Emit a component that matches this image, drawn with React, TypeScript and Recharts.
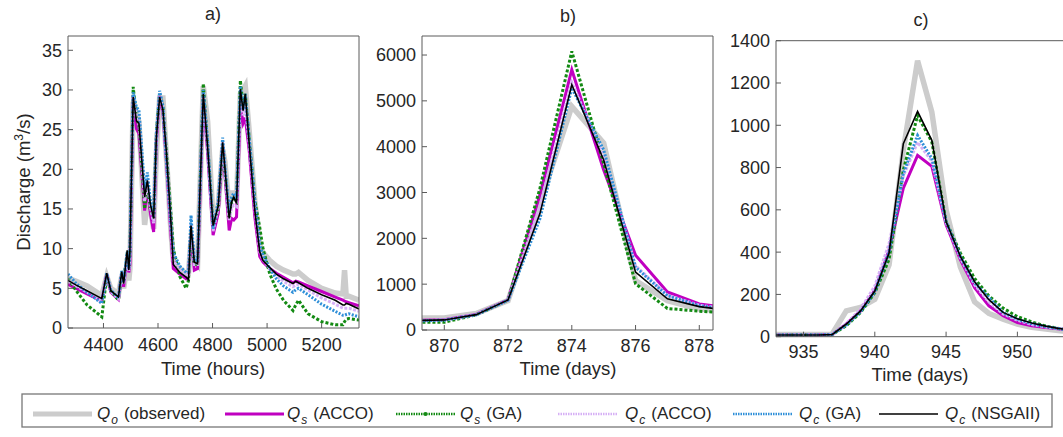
import React from 'react'
import { LineChart, Line, XAxis, YAxis } from 'recharts'

const FONT = '"Liberation Sans", Arial, Helvetica, sans-serif'
const AXIS = '#5a5a5a'
const INK = '#262626'

// a) hourly event, Time (hours)
const hoursA = [
  4270, 4300, 4340, 4394, 4412, 4427, 4455, 4467, 4474, 4487,
  4493, 4497, 4509, 4521, 4530, 4551, 4561, 4572, 4584, 4594,
  4606, 4618, 4630, 4648, 4656, 4680, 4703, 4712, 4721, 4733,
  4745, 4766, 4782, 4802, 4821, 4837, 4845, 4861, 4870, 4878,
  4888, 4902, 4912, 4920, 4934, 4955, 4973, 4985, 5010, 5034,
  5060, 5095, 5105, 5115, 5150, 5200, 5250, 5278, 5284, 5290,
  5300, 5337,
]
const obsA = [
  6.3, 5.9, 5.3, 4.1, 6.5, 5.0, 4.3, 6.5, 5.0, 8.0,
  6.0, 7.5, 28.5, 27.0, 26.0, 13.0, 16.0, 15.0, 12.5, 22.0,
  29.0, 29.0, 22.0, 12.0, 8.5, 7.5, 6.8, 7.0, 11.0, 8.5,
  8.0, 30.5, 26.0, 13.5, 15.5, 22.5, 21.0, 15.0, 17.0, 17.0,
  16.0, 29.5, 30.0, 30.5, 25.0, 16.0, 10.5, 9.5, 8.5, 7.8,
  7.3, 6.8, 6.8, 7.0, 6.0, 5.0, 4.4, 4.3, 7.3, 4.0,
  4.0, 3.5,
]
const sAccoA = [
  5.5, 5.0, 4.3, 3.4, 6.8, 4.5, 3.6, 6.9, 5.2, 9.0,
  7.0, 8.0, 29.3, 25.1, 24.5, 14.8, 17.5, 14.5, 12.1, 23.5,
  29.2, 27.2, 21.5, 11.5, 7.5, 6.8, 6.2, 6.5, 12.0, 7.3,
  7.5, 29.0, 22.0, 11.7, 14.5, 23.0, 19.5, 12.3, 13.8, 13.6,
  14.0, 28.0, 25.8, 26.5, 22.5, 14.0, 9.0, 8.3, 7.5, 6.9,
  6.4, 5.7, 5.9, 5.8, 5.3, 4.6, 3.9, 3.5, 3.4, 3.3,
  3.2, 2.8,
]
const sGaA = [
  6.2, 4.7, 2.9, 1.4, 6.5, 4.7, 3.5, 7.0, 6.0, 9.5,
  7.5, 9.5, 30.4, 26.5, 25.5, 15.0, 18.0, 15.0, 13.5, 24.5,
  29.5, 27.8, 22.5, 14.0, 10.0, 6.5, 5.0, 6.0, 12.5, 8.0,
  8.0, 30.8, 23.0, 13.0, 15.0, 23.0, 20.0, 14.0, 16.0, 16.5,
  16.0, 31.2, 28.0, 29.5, 24.0, 16.0, 12.7, 10.0, 6.8, 4.9,
  3.5, 2.2, 2.9, 3.5, 1.8, 0.8, 0.4, 0.4, 0.8, 1.1,
  1.2, 1.0,
]
const cAccoA = [
  6.0, 5.3, 4.5, 3.4, 6.8, 4.6, 3.7, 7.0, 5.5, 9.4,
  7.2, 9.0, 29.4, 26.5, 26.0, 16.0, 18.5, 15.2, 13.2, 24.0,
  29.5, 27.6, 21.8, 12.2, 8.5, 7.3, 6.6, 6.7, 13.0, 8.0,
  8.0, 29.6, 22.8, 12.2, 15.2, 23.5, 20.0, 13.5, 15.2, 15.5,
  15.3, 29.0, 26.8, 28.0, 23.3, 15.0, 9.6, 8.6, 7.5, 6.6,
  5.9, 5.2, 5.4, 5.5, 4.8, 3.8, 3.0, 2.5, 2.5, 2.5,
  2.5, 2.1,
]
const cGaA = [
  6.8, 5.6, 4.5, 3.1, 6.9, 4.8, 3.8, 7.2, 5.8, 9.6,
  7.5, 9.5, 29.7, 27.8, 27.5, 17.5, 19.6, 16.0, 14.0, 24.5,
  29.9, 28.0, 21.5, 12.7, 9.5, 7.8, 7.0, 7.0, 14.2, 8.5,
  8.5, 30.0, 23.5, 12.5, 16.0, 24.0, 20.5, 14.5, 16.5, 17.0,
  16.3, 30.5, 27.5, 29.5, 24.0, 16.0, 10.4, 9.2, 7.5, 6.2,
  5.3, 4.5, 4.8, 5.0, 4.2, 3.0, 2.1, 1.6, 1.6, 1.7,
  1.8, 1.4,
]
const nsgaA = [
  6.0, 5.4, 4.7, 3.7, 6.9, 4.7, 3.9, 7.1, 5.6, 9.8,
  7.3, 9.8, 29.1, 26.1, 25.8, 16.5, 18.6, 15.6, 13.8, 24.0,
  29.1, 27.5, 22.5, 13.0, 8.0, 7.0, 6.4, 6.1, 12.9, 8.3,
  8.1, 29.5, 22.8, 12.9, 15.4, 23.4, 20.3, 13.8, 15.9, 16.5,
  15.7, 30.1, 27.4, 29.5, 23.4, 14.8, 9.6, 8.5, 7.6, 6.8,
  6.2, 5.6, 5.9, 5.7, 5.0, 4.2, 3.5, 2.9, 2.9, 3.1,
  3.0, 2.4,
]

// b) daily event
const daysB = [869, 870, 871, 872, 873, 874, 875, 876, 877, 878, 879]
const obsB = [260, 260, 360, 640, 2760, 4880, 4080, 1080, 640, 460, 400]
const sAccoB = [210, 225, 340, 660, 2950, 5680, 3490, 1630, 830, 570, 470]
const sGaB = [170, 170, 330, 650, 3090, 6080, 3630, 1010, 470, 410, 370]
const cAccoB = [200, 220, 335, 655, 2700, 5400, 3800, 1400, 760, 540, 450]
const cGaB = [195, 215, 330, 650, 2430, 5280, 3930, 1370, 750, 530, 440]
const nsgaB = [205, 220, 335, 657, 2540, 5350, 3710, 1263, 680, 510, 420]

// c) daily event
const daysC = [933, 934, 935, 936, 937, 938, 939, 940, 941, 942, 943, 944, 945, 946, 947, 948, 949, 950, 951, 952, 953, 954]
const obsC = [10, 10, 10, 10, 12, 122, 138, 177, 340, 882, 1305, 1062, 600, 330, 165, 110, 83, 60, 44, 36, 28, 24]
const sAccoC = [8, 8, 8, 8, 10, 60, 122, 220, 410, 702, 858, 806, 529, 365, 232, 146, 99, 67, 52, 44, 36, 30]
const sGaC = [8, 8, 8, 8, 10, 52, 114, 208, 365, 788, 1046, 921, 545, 396, 275, 193, 135, 95, 70, 50, 38, 30]
const cAccoC = [8, 8, 8, 8, 10, 62, 130, 240, 440, 760, 920, 830, 540, 372, 245, 165, 108, 78, 58, 46, 37, 30]
const cGaC = [8, 8, 8, 8, 10, 55, 118, 212, 400, 772, 952, 843, 545, 380, 255, 185, 114, 83, 62, 48, 37, 30]
const nsgaC = [8, 8, 8, 8, 10, 60, 122, 216, 396, 913, 1066, 929, 545, 380, 260, 175, 115, 85, 65, 50, 38, 30]

const ticksXA = [4400, 4600, 4800, 5000, 5200]
const ticksYA = [0, 5, 10, 15, 20, 25, 30, 35]
const ticksXB = [870, 872, 874, 876, 878]
const ticksYB = [0, 1000, 2000, 3000, 4000, 5000, 6000]
const ticksXC = [935, 940, 945, 950]
const ticksYC = [0, 200, 400, 600, 800, 1000, 1200, 1400]

type Row = { x: number; obs: number; sAcco: number; sGa: number; cAcco: number; cGa: number; nsga: number }

const makeRows = (xs: number[], obs: number[], sAcco: number[], sGa: number[], cAcco: number[], cGa: number[], nsga: number[]): Row[] =>
  xs.map((x, i) => ({ x, obs: obs[i], sAcco: sAcco[i], sGa: sGa[i], cAcco: cAcco[i], cGa: cGa[i], nsga: nsga[i] }))

const rowsA = makeRows(hoursA, obsA, sAccoA, sGaA, cAccoA, cGaA, nsgaA)
const rowsB = makeRows(daysB, obsB, sAccoB, sGaB, cAccoB, cGaB, nsgaB)
const rowsC = makeRows(daysC, obsC, sAccoC, sGaC, cAccoC, cGaC, nsgaC)

// drawing order = legend order
const series = [
  { key: 'obs', sub: 'o', name: '(observed)', color: '#cccccc', width: 5.5, dash: undefined as string | undefined, legendWidth: 5 },
  { key: 'sAcco', sub: 's', name: '(ACCO)', color: '#c000c0', width: 3, dash: undefined, legendWidth: 3 },
  { key: 'sGa', sub: 's', name: '(GA)', color: '#138a13', width: 3, dash: '3 2', legendWidth: 2.5 },
  { key: 'cAcco', sub: 'c', name: '(ACCO)', color: '#d6b0f5', width: 3, dash: '3 1.5', legendWidth: 2.5 },
  { key: 'cGa', sub: 'c', name: '(GA)', color: '#2f8fd8', width: 3, dash: '2 1.5', legendWidth: 2.5 },
  { key: 'nsga', sub: 'c', name: '(NSGAII)', color: '#000000', width: 1.6, dash: undefined, legendWidth: 1.5 },
]

// tick labels drawn by hand so the font size sticks
const XTick = (p: any) => (
  <text x={p.x} y={p.y} dy="0.71em" textAnchor="middle" fontSize={18} fill={INK} fontFamily={FONT}>
    {p.payload.value}
  </text>
)
const YTick = (p: any) => (
  <text x={p.x} y={p.y} dy="0.355em" textAnchor="end" fontSize={18} fill={INK} fontFamily={FONT}>
    {p.payload.value}
  </text>
)

interface PanelProps {
  rows: Row[]
  left: number
  xDomain: [number, number]
  yDomain: [number, number]
  xTicks: number[]
  yTicks: number[]
  marginTop: number
  marginBottom: number
  marginRight: number
  xTickMargin: number
}

function Panel({ rows, left, xDomain, yDomain, xTicks, yTicks, marginTop, marginBottom, marginRight, xTickMargin }: PanelProps) {
  return (
    <div style={{ position: 'absolute', left, top: 0 }}>
      <LineChart width={370} height={380} data={rows} margin={{ top: marginTop, right: marginRight, bottom: marginBottom, left: 0 }}>
        <XAxis xAxisId="b" dataKey="x" type="number" domain={xDomain} allowDataOverflow ticks={xTicks} interval={0}
          height={30} tickSize={-5} tickMargin={xTickMargin} stroke={AXIS} tick={XTick} />
        <XAxis xAxisId="t" orientation="top" dataKey="x" type="number" domain={xDomain} allowDataOverflow ticks={xTicks} interval={0}
          height={1} tickSize={-5} stroke={AXIS} tick={false} />
        <YAxis yAxisId="l" type="number" domain={yDomain} allowDataOverflow ticks={yTicks} interval={0}
          width={68} tickSize={-5} tickMargin={11} stroke={AXIS} tick={YTick} />
        <YAxis yAxisId="r" orientation="right" type="number" domain={yDomain} allowDataOverflow ticks={yTicks} interval={0}
          width={1} tickSize={-5} stroke={AXIS} tick={false} />
        {series.map((s) => (
          <Line key={s.key} xAxisId="b" yAxisId="l" type="linear" dataKey={s.key} stroke={s.color} strokeWidth={s.width}
            strokeDasharray={s.dash} dot={false} activeDot={false} isAnimationActive={false} />
        ))}
      </LineChart>
    </div>
  )
}

// legend sample positions
const legendX = [33, 225, 396, 558, 733, 879]
const legendTextX = [97, 287, 460, 625, 799, 945]

function Overlay() {
  return (
    <svg width={1063} height={437} style={{ position: 'absolute', left: 0, top: 0, pointerEvents: 'none' }} fontFamily={FONT} fill={INK}>
      <text x={213} y={20} fontSize={18} textAnchor="middle">a)</text>
      <text x={568} y={21.5} fontSize={18} textAnchor="middle">b)</text>
      <text x={921} y={26} fontSize={18} textAnchor="middle">c)</text>

      <text x={213} y={374.5} fontSize={18.5} textAnchor="middle">Time (hours)</text>
      <text x={568} y={374.5} fontSize={18.5} textAnchor="middle">Time (days)</text>
      <text x={920} y={381} fontSize={18.5} textAnchor="middle">Time (days)</text>

      <text transform="translate(30,182) rotate(-90)" fontSize={18.5} textAnchor="middle">
        Discharge (m<tspan dy={-7} fontSize={12}>3</tspan><tspan dy={7}>/s)</tspan>
      </text>

      <rect x={22} y={394} width={1030} height={33} fill="#fff" stroke="#777" strokeWidth={1.3} />
      {series.map((s, i) => (
        <g key={s.key}>
          <line x1={legendX[i]} x2={legendX[i] + 59} y1={414} y2={414} stroke={s.color} strokeWidth={s.legendWidth}
            strokeDasharray={s.dash ? '1.5 1' : undefined} />
          {s.key === 'sGa' && <circle cx={legendX[i] + 29.5} cy={414} r={2} fill={s.color} />}
          <text x={legendTextX[i]} y={419} fontSize={17}>
            <tspan fontStyle="italic">Q</tspan>
            <tspan fontStyle="italic" fontSize={12} dx={1} dy={5}>{s.sub}</tspan>
            <tspan dx={6} dy={-5}>{s.name}</tspan>
          </text>
        </g>
      ))}
    </svg>
  )
}

export default function App() {
  return (
    <div style={{ position: 'absolute', left: 0, top: 0, width: 1063, height: 437, overflow: 'hidden', background: '#fff', fontFamily: FONT }}>
      <Panel rows={rowsA} left={0} xDomain={[4270, 5337]} yDomain={[0, 36.8]} xTicks={ticksXA} yTicks={ticksYA}
        marginTop={35} marginBottom={22} marginRight={10} xTickMargin={15} />
      <Panel rows={rowsB} left={354} xDomain={[869.3, 878.43]} yDomain={[0, 6415]} xTicks={ticksXB} yTicks={ticksYB}
        marginTop={35} marginBottom={20} marginRight={10} xTickMargin={14} />
      <Panel rows={rowsC} left={708} xDomain={[933.07, 953.41]} yDomain={[0, 1400]} xTicks={ticksXC} yTicks={ticksYC}
        marginTop={39.7} marginBottom={13.3} marginRight={11} xTickMargin={14} />
      <Overlay />
    </div>
  )
}
